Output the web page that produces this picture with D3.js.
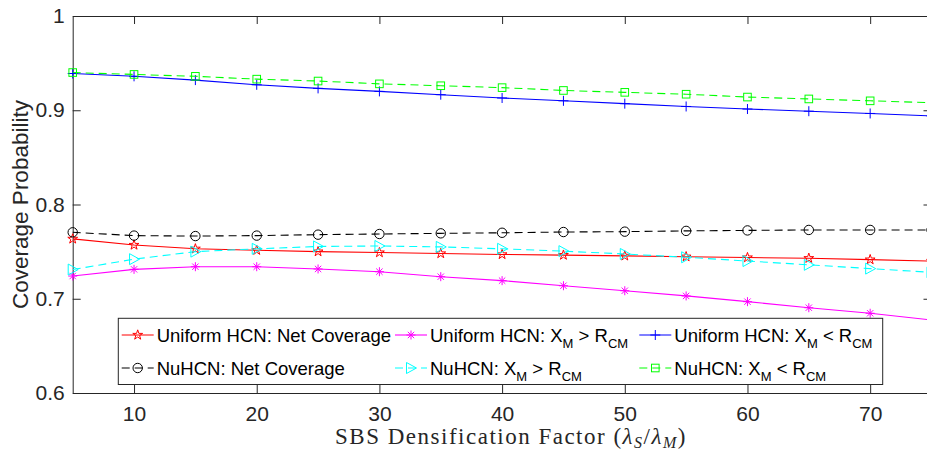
<!DOCTYPE html>
<html>
<head>
<meta charset="utf-8">
<script src="https://cdn.jsdelivr.net/npm/d3@7"></script>
<style>
  html, body { margin: 0; padding: 0; background: #fff; }
  svg { display: block; }
</style>
</head>
<body>
<svg id="chart" width="927" height="451"></svg>
<script>
// SBS densification factor (x axis)
const densification = [5, 10, 15, 20, 25, 30, 35, 40, 45, 50, 55, 60, 65, 70, 75];
const xTicks = [10, 20, 30, 40, 50, 60, 70];
const yTicks = [0.6, 0.7, 0.8, 0.9, 1];

// Coverage probability series
const uniformNet  = [0.7635, 0.757, 0.753, 0.7515, 0.750, 0.749, 0.748, 0.747, 0.7463, 0.7455, 0.7446, 0.7437, 0.743, 0.7415, 0.740];
const uniformFar  = [0.7241, 0.7312, 0.734, 0.734, 0.7316, 0.7287, 0.7234, 0.7192, 0.7138, 0.7085, 0.703, 0.6969, 0.6905, 0.6846, 0.6775];
const uniformNear = [0.939, 0.936, 0.932, 0.927, 0.9232, 0.920, 0.9165, 0.913, 0.910, 0.907, 0.904, 0.9013, 0.899, 0.8966, 0.894];
const nuNet       = [0.7705, 0.767, 0.7665, 0.767, 0.768, 0.7687, 0.7694, 0.770, 0.7708, 0.7712, 0.772, 0.7725, 0.773, 0.773, 0.773];
const nuFar       = [0.731, 0.742, 0.750, 0.753, 0.7555, 0.756, 0.755, 0.753, 0.7505, 0.7475, 0.744, 0.740, 0.736, 0.732, 0.728];
const nuNear      = [0.940, 0.938, 0.936, 0.933, 0.931, 0.928, 0.926, 0.924, 0.921, 0.919, 0.917, 0.914, 0.912, 0.910, 0.908];

const series = [
  { values: uniformNet,  color: "#ff0000", dash: null,  marker: "star",
    label: [["Uniform HCN: Net Coverage", false]] },
  { values: uniformFar,  color: "#ff00ff", dash: null,  marker: "asterisk",
    label: [["Uniform HCN: X", false], ["M", true], [" > R", false], ["CM", true]] },
  { values: uniformNear, color: "#0000ff", dash: null,  marker: "plus",
    label: [["Uniform HCN: X", false], ["M", true], [" < R", false], ["CM", true]] },
  { values: nuNet,       color: "#000000", dash: "8,5", marker: "circle",
    label: [["NuHCN: Net Coverage", false]] },
  { values: nuFar,       color: "#00ffff", dash: "8,5", marker: "triangle",
    label: [["NuHCN: X", false], ["M", true], [" > R", false], ["CM", true]] },
  { values: nuNear,      color: "#00ff00", dash: "8,5", marker: "square",
    label: [["NuHCN: X", false], ["M", true], [" < R", false], ["CM", true]] }
];

const axisColor = "#262626";
const sansFont = "'Liberation Sans', Arial, Helvetica, sans-serif";

const svg = d3.select("#chart");
const plot = { left: 72.7, right: 931.5, top: 16, bottom: 393 };

const x = d3.scaleLinear().domain([5, 75]).range([plot.left, plot.right]);
const y = d3.scaleLinear().domain([0.6, 1]).range([plot.bottom, plot.top]);

// Axes box with inward ticks on all four sides
function styleAxis(g) {
  g.attr("font-family", null).attr("font-size", null);
  g.selectAll("path.domain").attr("stroke", axisColor).attr("stroke-width", 1);
  g.selectAll(".tick line").attr("stroke", axisColor).attr("stroke-width", 1);
  g.selectAll(".tick text").attr("fill", axisColor)
    .style("font-family", sansFont).style("font-size", "21px");
}

svg.append("g")
  .attr("transform", `translate(0,${plot.bottom})`)
  .call(d3.axisBottom(x).tickValues(xTicks).tickSizeInner(-8).tickSizeOuter(0).tickPadding(13))
  .call(styleAxis);

svg.append("g")
  .attr("transform", `translate(0,${plot.top})`)
  .call(d3.axisTop(x).tickValues(xTicks).tickSizeInner(-8).tickSizeOuter(0).tickFormat(""))
  .call(styleAxis);

svg.append("g")
  .attr("transform", `translate(${plot.left},0)`)
  .call(d3.axisLeft(y).tickValues(yTicks).tickSizeInner(-8).tickSizeOuter(0).tickPadding(8)
    .tickFormat(d => d === 1 ? "1" : d.toFixed(1)))
  .call(styleAxis);

svg.append("g")
  .attr("transform", `translate(${plot.right},0)`)
  .call(d3.axisRight(y).tickValues(yTicks).tickSizeInner(-8).tickSizeOuter(0).tickFormat(""))
  .call(styleAxis);

// Axis titles
svg.append("text")
  .attr("transform", `translate(28,204.5) rotate(-90)`)
  .attr("text-anchor", "middle")
  .attr("fill", axisColor)
  .style("font-family", sansFont)
  .style("font-size", "22.5px")
  .text("Coverage Probability");

const xTitle = svg.append("text")
  .attr("x", 511)
  .attr("y", 444)
  .attr("text-anchor", "middle")
  .attr("fill", axisColor)
  .style("font-family", "'Liberation Serif', 'Times New Roman', serif")
  .style("font-size", "23px")
  .style("letter-spacing", "1.5px");
xTitle.append("tspan").text("SBS Densification Factor (");
xTitle.append("tspan").style("font-style", "italic").text("λ");
xTitle.append("tspan").style("font-style", "italic").style("font-size", "16px").attr("dy", 4).text("S");
xTitle.append("tspan").attr("dy", -4).text("/");
xTitle.append("tspan").style("font-style", "italic").text("λ");
xTitle.append("tspan").style("font-style", "italic").style("font-size", "16px").attr("dy", 4).text("M");
xTitle.append("tspan").attr("dy", -4).text(")");

// Marker shapes
function drawMarker(g, type, cx, cy, color) {
  let el;
  if (type === "star") {
    el = g.append("path")
      .attr("d", d3.symbol(d3.symbolStar, 30)())
      .attr("transform", `translate(${cx},${cy})`);
  } else if (type === "circle") {
    el = g.append("circle").attr("cx", cx).attr("cy", cy).attr("r", 4.7);
  } else if (type === "square") {
    el = g.append("rect").attr("x", cx - 3.8).attr("y", cy - 3.8).attr("width", 7.6).attr("height", 7.6);
  } else if (type === "triangle") {
    el = g.append("path").attr("d",
      `M${cx - 4.5},${cy - 5.5}L${cx + 5.5},${cy}L${cx - 4.5},${cy + 5.5}Z`);
  } else if (type === "plus") {
    el = g.append("path").attr("d",
      `M${cx - 5},${cy}H${cx + 5}M${cx},${cy - 5}V${cy + 5}`);
  } else if (type === "asterisk") {
    const r = 4.5, d = r * 0.7071;
    el = g.append("path").attr("d",
      `M${cx - r},${cy}H${cx + r}M${cx},${cy - r}V${cy + r}` +
      `M${cx - d},${cy - d}L${cx + d},${cy + d}M${cx - d},${cy + d}L${cx + d},${cy - d}`);
  }
  el.attr("fill", "none").attr("stroke", color).attr("stroke-width", 1);
}

// Data lines and markers
const line = d3.line().x((d, i) => x(densification[i])).y(d => y(d));
const dataLayer = svg.append("g");
series.forEach(sr => {
  dataLayer.append("path")
    .datum(sr.values)
    .attr("d", line)
    .attr("fill", "none")
    .attr("stroke", sr.color)
    .attr("stroke-width", 1.1)
    .attr("stroke-dasharray", sr.dash);
  const mg = dataLayer.append("g");
  sr.values.forEach((v, i) => drawMarker(mg, sr.marker, x(densification[i]), y(v), sr.color));
});

// Legend
const legend = svg.append("g");
legend.append("rect")
  .attr("x", 118.3).attr("y", 318.3)
  .attr("width", 764.4).attr("height", 66.2)
  .attr("fill", "#fff")
  .attr("stroke", axisColor).attr("stroke-width", 1);

const colX = [121.7, 395, 639.3];
const rowY = [335, 368];
series.forEach((sr, i) => {
  const col = i % 3, row = Math.floor(i / 3);
  const lx = colX[col], ly = rowY[row];
  legend.append("line")
    .attr("x1", lx).attr("x2", lx + 32)
    .attr("y1", ly).attr("y2", ly)
    .attr("stroke", sr.color).attr("stroke-width", 1.1)
    .attr("stroke-dasharray", sr.dash);
  drawMarker(legend, sr.marker, lx + 16, ly, sr.color);
  const t = legend.append("text")
    .attr("x", lx + 35)
    .attr("y", ly + 6.5)
    .attr("fill", "#000")
    .style("font-family", sansFont)
    .style("font-size", "18.5px");
  let shifted = false;
  sr.label.forEach(([txt, sub]) => {
    const ts = t.append("tspan").text(txt);
    if (sub && !shifted) { ts.attr("dy", 6).style("font-size", "13px"); shifted = true; }
    else if (sub) { ts.style("font-size", "13px"); }
    else if (!sub && shifted) { ts.attr("dy", -6); shifted = false; }
  });
});
</script>
</body>
</html>
